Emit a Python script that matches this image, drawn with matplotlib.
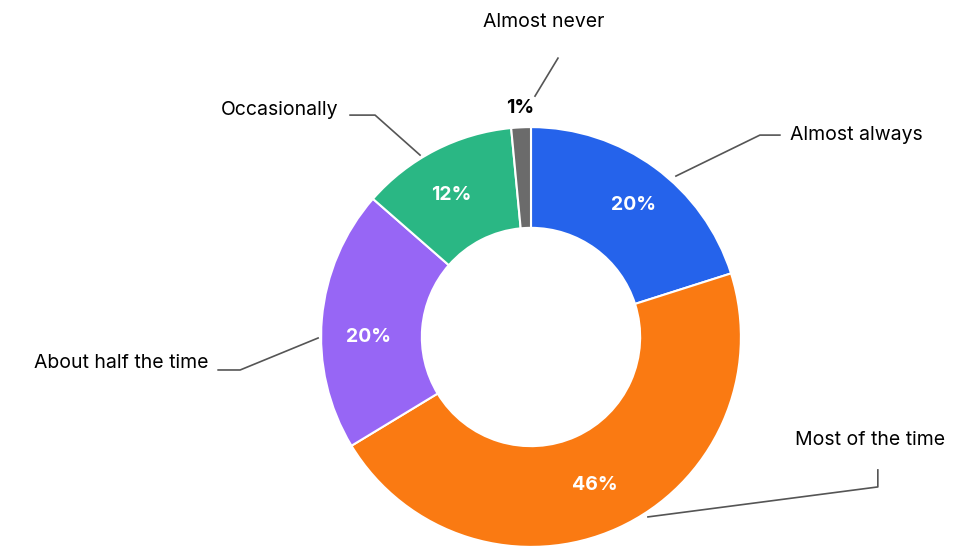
import matplotlib
matplotlib.use("Agg")
import matplotlib.pyplot as plt

labels = ["Almost always", "Most of the time", "About half the time", "Occasionally", "Almost never"]
values = [20, 46, 20, 12, 1.5]
pct_labels = ["20%", "46%", "20%", "12%", "1%"]
colors = ["#2563EB", "#FA7A12", "#9766F5", "#2AB784", "#6B6B6B"]

plt.rcParams['font.family'] = ['Inter', 'DejaVu Sans']
fig = plt.figure(figsize=(9.75, 5.58), dpi=100)
ax = fig.add_axes([(531-212)/975, (558-549)/558, 424/975, 424/558])
ax.axis('off')
ax.pie(values, colors=colors, startangle=90, counterclock=False, radius=1.0,
       wedgeprops=dict(width=0.48, edgecolor='white', linewidth=1.5))

def P(px, py):
    return ((px-531)/210, (337-py)/210)

inner = [(634, 205), (595, 485), (368, 337), (451, 195)]
for (px, py), t in zip(inner, pct_labels[:4]):
    x, y = P(px, py)
    ax.text(x, y, t, color='white', fontsize=14, fontweight='bold', ha='center', va='center')
x, y = P(520, 108)
ax.text(x, y, pct_labels[4], color='black', fontsize=14, fontweight='bold', ha='center', va='center')

leaders = [
    [(676, 176), (760, 135), (780, 135)],
    [(648, 517), (878, 487), (878, 470)],
    [(318, 338), (240, 370), (218, 370)],
    [(420, 155), (375, 115), (350, 115)],
    [(535, 96), (558, 58)],
]
texts = [((790, 135), 'left'), ((795, 440), 'left'), ((208, 363), 'right'),
         ((338, 110), 'right'), ((544, 22), 'center')]
for pts, ((px, py), ha), lab in zip(leaders, texts, labels):
    xs, ys = zip(*[P(a, b) for a, b in pts])
    ax.plot(xs, ys, color='#555555', lw=1.2, clip_on=False, scalex=False, scaley=False)
    x, y = P(px, py)
    ax.text(x, y, lab, fontsize=14, ha=ha, va='center', color='black', clip_on=False)

ax.set_aspect('auto')
ax.set_xlim(-1.01, 1.01); ax.set_ylim(-1.01, 1.01)
fig.savefig("out.png", dpi=100)
